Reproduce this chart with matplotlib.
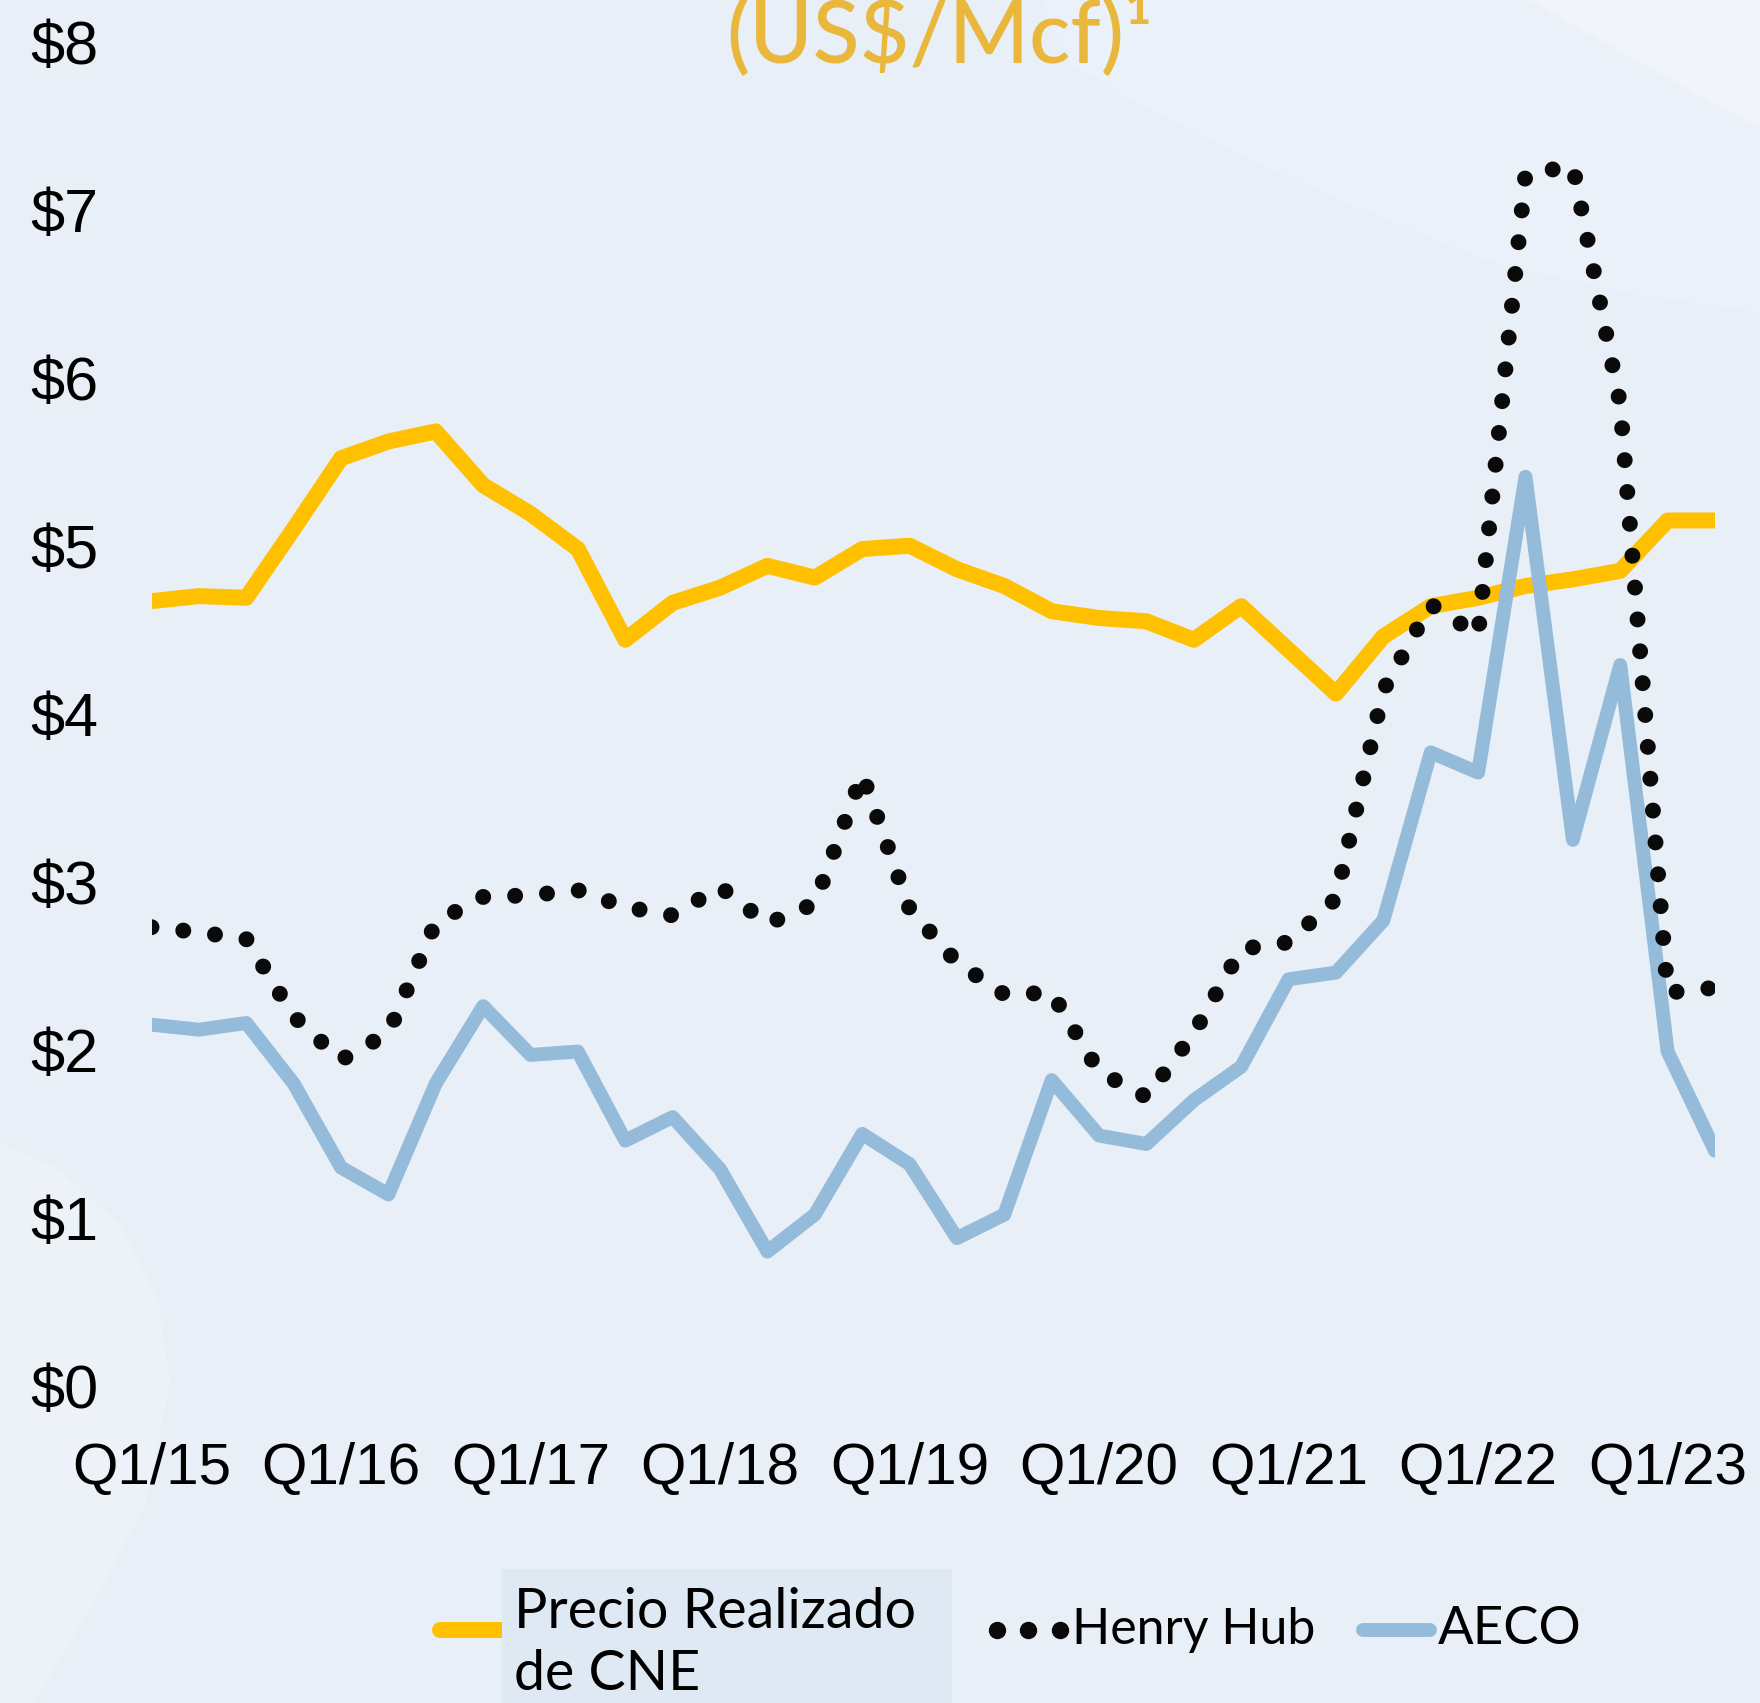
import matplotlib.pyplot as plt
from matplotlib.patches import Polygon, Rectangle
from matplotlib.lines import Line2D

# ------------------------------
# data (quarterly, Q1/15 .. Q2/23)
# ------------------------------
quarters = list(range(34))
tick_pos = [0, 4, 8, 12, 16, 20, 24, 28, 32]
tick_labels = ["Q1/15", "Q1/16", "Q1/17", "Q1/18", "Q1/19",
               "Q1/20", "Q1/21", "Q1/22", "Q1/23"]

precio_cne = [4.67, 4.70, 4.69, 5.10, 5.52, 5.62, 5.68, 5.36, 5.19, 4.98,
              4.44, 4.66, 4.75, 4.88, 4.81, 4.98, 5.00, 4.86, 4.76, 4.61,
              4.57, 4.55, 4.44, 4.64, 4.38, 4.12, 4.46, 4.64, 4.69, 4.76,
              4.80, 4.85, 5.15, 5.15]

henry_hub = [2.73, 2.70, 2.66, 2.20, 1.94, 2.10, 2.76, 2.91, 2.92, 2.95,
             2.85, 2.80, 2.97, 2.75, 2.87, 3.64, 2.84, 2.52, 2.33, 2.34,
             1.87, 1.72, 2.10, 2.60, 2.64, 2.90, 4.14, 4.65, 4.47, 7.21,
             7.26, 5.84, 2.34, 2.37]

aeco = [2.15, 2.12, 2.16, 1.80, 1.30, 1.14, 1.80, 2.26, 1.97, 1.99,
        1.46, 1.60, 1.29, 0.80, 1.02, 1.50, 1.32, 0.88, 1.02, 1.82,
        1.49, 1.44, 1.70, 1.90, 2.42, 2.46, 2.77, 3.77, 3.65, 5.41,
        3.25, 4.29, 1.99, 1.40]

yticks = [0, 1, 2, 3, 4, 5, 6, 7, 8]
ytick_labels = ["$0", "$1", "$2", "$3", "$4", "$5", "$6", "$7", "$8"]

ORANGE = "#FFC000"
BLUE = "#95BBDA"
BLACK = "#0A0A0A"
GOLD = "#E8B73C"
BG = "#E8EFF6"

W, H = 1760, 1703
fig = plt.figure(figsize=(W / 100, H / 100), dpi=100, facecolor=BG)


def px(x, y):
    # figure pixel (from top-left) -> figure fraction
    return (x / W, 1 - y / H)


# soft background shapes (kept behind the axes)
band = [(1040, 0), (1073, 67), (1194, 133), (1339, 200), (1485, 260),
        (1620, 292), (1760, 312), (1760, 0)]
corner = [(1530, 0), (1600, 40), (1680, 85), (1760, 128), (1760, 0)]
left_blob = [(0, 1142), (60, 1170), (120, 1225), (158, 1300), (170, 1383),
             (145, 1505), (90, 1610), (33, 1703), (0, 1703)]
for pts, col in [(band, "#EBF1F8"), (corner, "#F1F5FA"), (left_blob, "#EDF2F8")]:
    fig.patches.append(Polygon([px(*p) for p in pts], closed=True,
                               transform=fig.transFigure, facecolor=col,
                               edgecolor="none", zorder=-5))

ax = fig.add_axes([151.5 / W, 317 / H, (1715 - 151.5) / W, (1386 - 41.5) / H])
ax.set_facecolor("none")
ax.set_zorder(5)

ax.plot(quarters, precio_cne, color=ORANGE, lw=11.5,
        solid_joinstyle="round", solid_capstyle="butt", zorder=2)
ax.plot(quarters, aeco, color=BLUE, lw=10,
        solid_joinstyle="round", solid_capstyle="round", zorder=3)
ax.plot(quarters, henry_hub, color=BLACK, lw=11.5,
        linestyle=(0, (0.001, 2.0)), dash_capstyle="round", zorder=4)

ax.set_xlim(0, 33)
ax.set_ylim(0, 8)
ax.set_xticks(tick_pos)
ax.set_xticklabels(tick_labels)
ax.set_yticks(yticks)
ax.set_yticklabels(ytick_labels)
ax.tick_params(length=0, labelsize=42, colors="black")
ax.tick_params(axis="y", pad=38, labelsize=44)
ax.tick_params(axis="x", pad=40)
for lab in ax.get_xticklabels() + ax.get_yticklabels():
    lab.set_family(["Liberation Sans", "DejaVu Sans"])
for s in ax.spines.values():
    s.set_visible(False)

# title, partly cut off at the top edge
fig.text(*px(940, 63), "(US$/Mcf)¹", color=GOLD, fontsize=62,
         family=["Lato", "DejaVu Sans"], fontweight="medium",
         ha="center", va="baseline")

# legend (drawn by hand to match the layout)
yl = 1630
fig.lines.append(Line2D([px(440, 0)[0], px(515, 0)[0]], [px(0, yl)[1]] * 2,
                        transform=fig.transFigure, color=ORANGE, lw=11.5,
                        solid_capstyle="round", zorder=1))
fig.patches.append(Rectangle(px(502, 1703), 450 / W, 134 / H,
                             transform=fig.transFigure, facecolor="#DFE9F3",
                             edgecolor="none", zorder=2))
fig.text(*px(514, 1613), "Precio Realizado", fontsize=40, va="center",
         family=["Lato", "DejaVu Sans"], zorder=3)
fig.text(*px(514, 1675), "de CNE", fontsize=40, va="center",
         family=["Lato", "DejaVu Sans"], zorder=3)

fig.lines.append(Line2D([px(x, 0)[0] for x in (997, 1028, 1060)], [px(0, yl)[1]] * 3,
                        transform=fig.transFigure, linestyle="none", marker="o",
                        markersize=11.5, color=BLACK, zorder=3))
fig.text(*px(1072, yl), "Henry Hub", fontsize=36, va="center",
         family=["Lato", "DejaVu Sans"], zorder=3)

fig.lines.append(Line2D([px(1363, 0)[0], px(1430, 0)[0]], [px(0, yl)[1]] * 2,
                        transform=fig.transFigure, color=BLUE, lw=10,
                        solid_capstyle="round", zorder=3))
fig.text(*px(1438, yl), "AECO", fontsize=38, va="center",
         family=["Lato", "DejaVu Sans"], zorder=3)

fig.savefig("out.png", dpi=100, facecolor=BG)
